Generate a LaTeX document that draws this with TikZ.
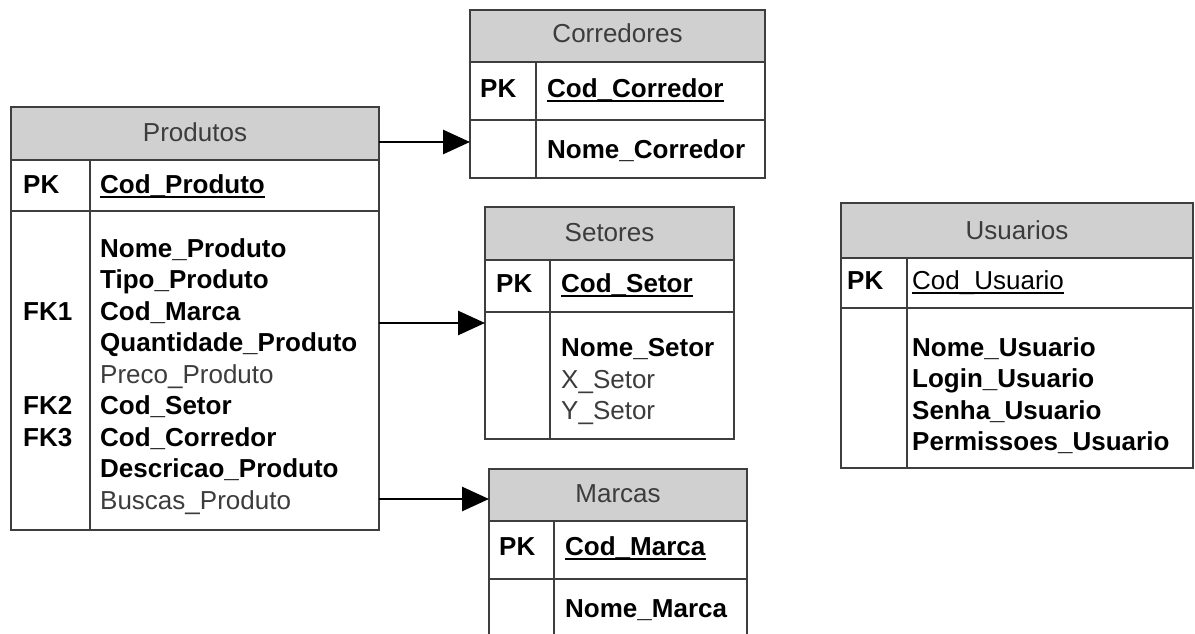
\documentclass[tikz,border=0pt]{standalone}
\usepackage{fontspec}
\setmainfont{Liberation Sans}
\usetikzlibrary{arrows.meta}
\definecolor{bd}{RGB}{62,62,62}
\definecolor{hd}{RGB}{208,208,208}
\definecolor{tg}{RGB}{60,60,60}
\newcommand\ertab[9]{%
  \node[hdr, minimum width={#5-#3}, minimum height={#6-#4}] (#1h) at (#3,#4) {};
  \node[body, minimum width={#5-#3}, minimum height={#8-#6}] (#1b) at (#3,#6) {};
  \draw[bdl] (#3,#7) -- (#5,#7);
  \draw[bdl] (#9,#6) -- (#9,#8);
  \node[ttl] (#1t) at ({(#3+#5)/2},{#6-19}) {#2};
}
\newcommand\ulin[1]{\draw[ul] ([yshift=-4pt]#1.base west) -- ([yshift=-4pt]#1.base east);}
\begin{document}
\begin{tikzpicture}[x=1pt,y=-1pt,
  every node/.style={font=\fontsize{26}{30}\selectfont},
  hdr/.style={draw=bd, fill=hd, line width=1.8pt, anchor=north west, inner sep=0pt, outer sep=0pt},
  body/.style={draw=bd, fill=white, line width=1.8pt, anchor=north west, inner sep=0pt, outer sep=0pt},
  bdl/.style={draw=bd, line width=1.6pt},
  ttl/.style={anchor=base, inner sep=0pt, text=tg},
  key/.style={anchor=base west, inner sep=0pt, font=\fontsize{26}{30}\selectfont\bfseries, text=black},
  att/.style={anchor=base west, inner sep=0pt, font=\fontsize{26}{30}\selectfont\bfseries, text=black},
  reg/.style={anchor=base west, inner sep=0pt, text=tg},
  ul/.style={draw=black, line width=1.5pt},
  conn/.style={draw=black, line width=2.8pt, -{Triangle[length=27pt,width=24pt]}}]
\clip (0,0) rectangle (1195,634);
\useasboundingbox (0,0) rectangle (1195,634);
\fill[white] (0,0) rectangle (1195,634);

% Produtos
\ertab{prod}{Produtos}{11}{107}{379}{160}{211}{530}{90}
\node[key] (prodpk) at (23,193) {PK};
\node[key] (prodcod) at (100,193) {Cod\_Produto};
\ulin{prodcod}
\node[att] (p1) at (100,257) {Nome\_Produto};
\node[att] (p2) at (100,288.5) {Tipo\_Produto};
\node[key] (fk1) at (23,320) {FK1};
\node[att] (p3) at (100,320) {Cod\_Marca};
\node[att] (p4) at (100,351.5) {Quantidade\_Produto};
\node[reg] (p5) at (100,383) {Preco\_Produto};
\node[key] (fk2) at (23,414.5) {FK2};
\node[att] (p6) at (100,414.5) {Cod\_Setor};
\node[key] (fk3) at (23,446) {FK3};
\node[att] (p7) at (100,446) {Cod\_Corredor};
\node[att] (p8) at (100,477.5) {Descricao\_Produto};
\node[reg] (p9) at (100,509) {Buscas\_Produto};

% Corredores
\ertab{corr}{Corredores}{470}{10}{765}{62}{120}{178}{536}
\node[key] (corrpk) at (480,97) {PK};
\node[key] (corrcod) at (547,97) {Cod\_Corredor};
\ulin{corrcod}
\node[att] (c1t) at (547,158) {Nome\_Corredor};

% Setores
\ertab{set}{Setores}{485}{207}{734}{260}{312}{439}{550}
\node[key] (setpk) at (496,292) {PK};
\node[key] (setcod) at (561,292) {Cod\_Setor};
\ulin{setcod}
\node[att] (s1) at (561,356) {Nome\_Setor};
\node[reg] (s2) at (561,388) {X\_Setor};
\node[reg] (s3) at (561,419) {Y\_Setor};

% Marcas
\ertab{mar}{Marcas}{489}{469}{747}{521}{579}{680}{554}
\node[key] (marpk) at (499,555) {PK};
\node[key] (marcod) at (565,555) {Cod\_Marca};
\ulin{marcod}
\node[att] (m1) at (565,617) {Nome\_Marca};

% Usuarios
\ertab{usu}{Usuarios}{841}{203}{1193}{258}{308}{468}{907}
\node[key] (usupk) at (847,289) {PK};
\node[reg, text=black] (usucod) at (912,289) {Cod\_Usuario};
\ulin{usucod}
\node[att] (u1) at (912,356) {Nome\_Usuario};
\node[att] (u2) at (912,387.5) {Login\_Usuario};
\node[att] (u3) at (912,419) {Senha\_Usuario};
\node[att] (u4) at (912,450) {Permissoes\_Usuario};

% connectors
\coordinate (a1) at (prodh.east |- 0,142);
\coordinate (a2) at (prodb.east |- 0,323);
\coordinate (a3) at (prodb.east |- 0,499);
\draw[conn] (a1) -- (corrb.west |- a1);
\draw[conn] (a2) -- (setb.west |- a2);
\draw[conn] (a3) -- (marh.west |- a3);
\end{tikzpicture}
\end{document}
